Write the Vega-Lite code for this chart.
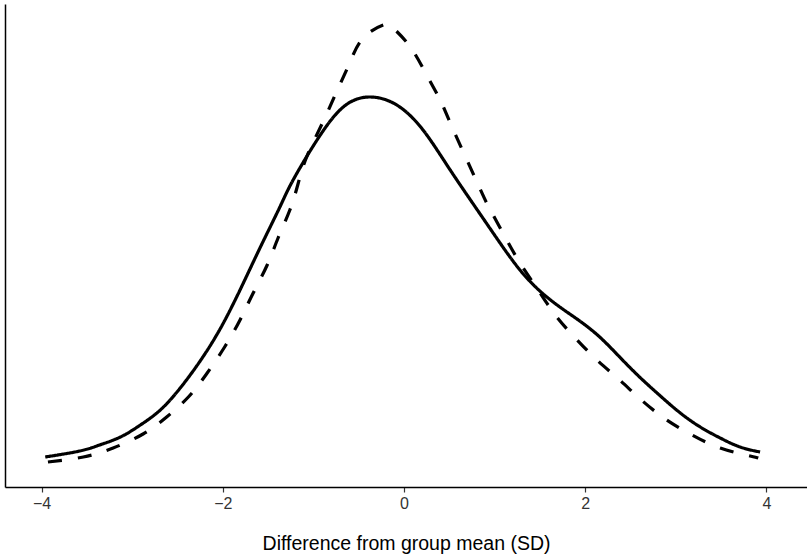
{
  "$schema": "https://vega.github.io/schema/vega-lite/v6.json",
  "width": 802,
  "height": 483,
  "autosize": {"type": "none"},
  "padding": {"left": 5, "top": 4, "right": 0, "bottom": 70},
  "background": "white",
  "config": {"view": {"stroke": null}, "font": "Liberation Sans"},
  "data": {"values": [
    {"x": -3.96, "y": 0.030, "g": "solid"},
    {"x": -3.58, "y": 0.036, "g": "solid"},
    {"x": -3.36, "y": 0.042, "g": "solid"},
    {"x": -3.13, "y": 0.050, "g": "solid"},
    {"x": -2.91, "y": 0.062, "g": "solid"},
    {"x": -2.69, "y": 0.077, "g": "solid"},
    {"x": -2.47, "y": 0.099, "g": "solid"},
    {"x": -2.25, "y": 0.126, "g": "solid"},
    {"x": -2.03, "y": 0.158, "g": "solid"},
    {"x": -1.81, "y": 0.197, "g": "solid"},
    {"x": -1.59, "y": 0.239, "g": "solid"},
    {"x": -1.37, "y": 0.280, "g": "solid"},
    {"x": -1.23, "y": 0.306, "g": "solid"},
    {"x": -0.96, "y": 0.347, "g": "solid"},
    {"x": -0.67, "y": 0.380, "g": "solid"},
    {"x": -0.38, "y": 0.390, "g": "solid"},
    {"x": -0.08, "y": 0.382, "g": "solid"},
    {"x": 0.21, "y": 0.357, "g": "solid"},
    {"x": 0.51, "y": 0.317, "g": "solid"},
    {"x": 0.84, "y": 0.273, "g": "solid"},
    {"x": 1.06, "y": 0.244, "g": "solid"},
    {"x": 1.28, "y": 0.217, "g": "solid"},
    {"x": 1.50, "y": 0.196, "g": "solid"},
    {"x": 1.72, "y": 0.180, "g": "solid"},
    {"x": 1.94, "y": 0.166, "g": "solid"},
    {"x": 2.16, "y": 0.150, "g": "solid"},
    {"x": 2.38, "y": 0.130, "g": "solid"},
    {"x": 2.60, "y": 0.110, "g": "solid"},
    {"x": 2.83, "y": 0.091, "g": "solid"},
    {"x": 3.05, "y": 0.074, "g": "solid"},
    {"x": 3.27, "y": 0.060, "g": "solid"},
    {"x": 3.49, "y": 0.049, "g": "solid"},
    {"x": 3.71, "y": 0.040, "g": "solid"},
    {"x": 3.93, "y": 0.035, "g": "solid"},
    {"x": -3.93, "y": 0.025, "g": "dashed"},
    {"x": -3.54, "y": 0.030, "g": "dashed"},
    {"x": -3.21, "y": 0.039, "g": "dashed"},
    {"x": -2.88, "y": 0.053, "g": "dashed"},
    {"x": -2.62, "y": 0.070, "g": "dashed"},
    {"x": -2.38, "y": 0.090, "g": "dashed"},
    {"x": -2.18, "y": 0.113, "g": "dashed"},
    {"x": -1.98, "y": 0.140, "g": "dashed"},
    {"x": -1.81, "y": 0.167, "g": "dashed"},
    {"x": -1.67, "y": 0.193, "g": "dashed"},
    {"x": -1.51, "y": 0.222, "g": "dashed"},
    {"x": -1.39, "y": 0.249, "g": "dashed"},
    {"x": -1.26, "y": 0.277, "g": "dashed"},
    {"x": -1.17, "y": 0.303, "g": "dashed"},
    {"x": -1.07, "y": 0.331, "g": "dashed"},
    {"x": -0.89, "y": 0.366, "g": "dashed"},
    {"x": -0.74, "y": 0.396, "g": "dashed"},
    {"x": -0.60, "y": 0.424, "g": "dashed"},
    {"x": -0.45, "y": 0.449, "g": "dashed"},
    {"x": -0.23, "y": 0.462, "g": "dashed"},
    {"x": -0.12, "y": 0.459, "g": "dashed"},
    {"x": 0.07, "y": 0.440, "g": "dashed"},
    {"x": 0.25, "y": 0.412, "g": "dashed"},
    {"x": 0.40, "y": 0.387, "g": "dashed"},
    {"x": 0.53, "y": 0.360, "g": "dashed"},
    {"x": 0.81, "y": 0.304, "g": "dashed"},
    {"x": 0.93, "y": 0.281, "g": "dashed"},
    {"x": 1.11, "y": 0.251, "g": "dashed"},
    {"x": 1.28, "y": 0.224, "g": "dashed"},
    {"x": 1.48, "y": 0.197, "g": "dashed"},
    {"x": 1.67, "y": 0.172, "g": "dashed"},
    {"x": 1.89, "y": 0.149, "g": "dashed"},
    {"x": 2.13, "y": 0.127, "g": "dashed"},
    {"x": 2.38, "y": 0.107, "g": "dashed"},
    {"x": 2.62, "y": 0.087, "g": "dashed"},
    {"x": 2.90, "y": 0.067, "g": "dashed"},
    {"x": 3.18, "y": 0.052, "g": "dashed"},
    {"x": 3.49, "y": 0.039, "g": "dashed"},
    {"x": 3.82, "y": 0.031, "g": "dashed"},
    {"x": 3.91, "y": 0.029, "g": "dashed"}
  ]},
  "mark": {"type": "line", "interpolate": "natural", "color": "black", "strokeWidth": 3.2, "strokeCap": "butt"},
  "encoding": {
    "x": {
      "field": "x", "type": "quantitative",
      "scale": {"domain": [-4.404, 4.448], "nice": false, "zero": false},
      "axis": {
        "values": [-4, -2, 0, 2, 4], "format": "d",
        "title": "Difference from group mean (SD)",
        "titleFontSize": 19.5, "titleFontWeight": "normal", "titleColor": "black", "titlePadding": 23,
        "labelFontSize": 16, "labelColor": "#333333", "labelPadding": 3,
        "tickColor": "#333333", "tickSize": 5, "tickWidth": 1.2,
        "domainColor": "black", "domainWidth": 1.5, "grid": false
      }
    },
    "y": {
      "field": "y", "type": "quantitative",
      "scale": {"domain": [0, 0.483], "nice": false, "zero": false},
      "axis": {"title": null, "labels": false, "ticks": false, "grid": false, "domainColor": "black", "domainWidth": 1.5}
    },
    "strokeDash": {
      "field": "g", "type": "nominal", "legend": null,
      "scale": {"domain": ["solid", "dashed"], "range": [[1, 0], [14, 16]]}
    },
    "detail": {"field": "g"}
  }
}
